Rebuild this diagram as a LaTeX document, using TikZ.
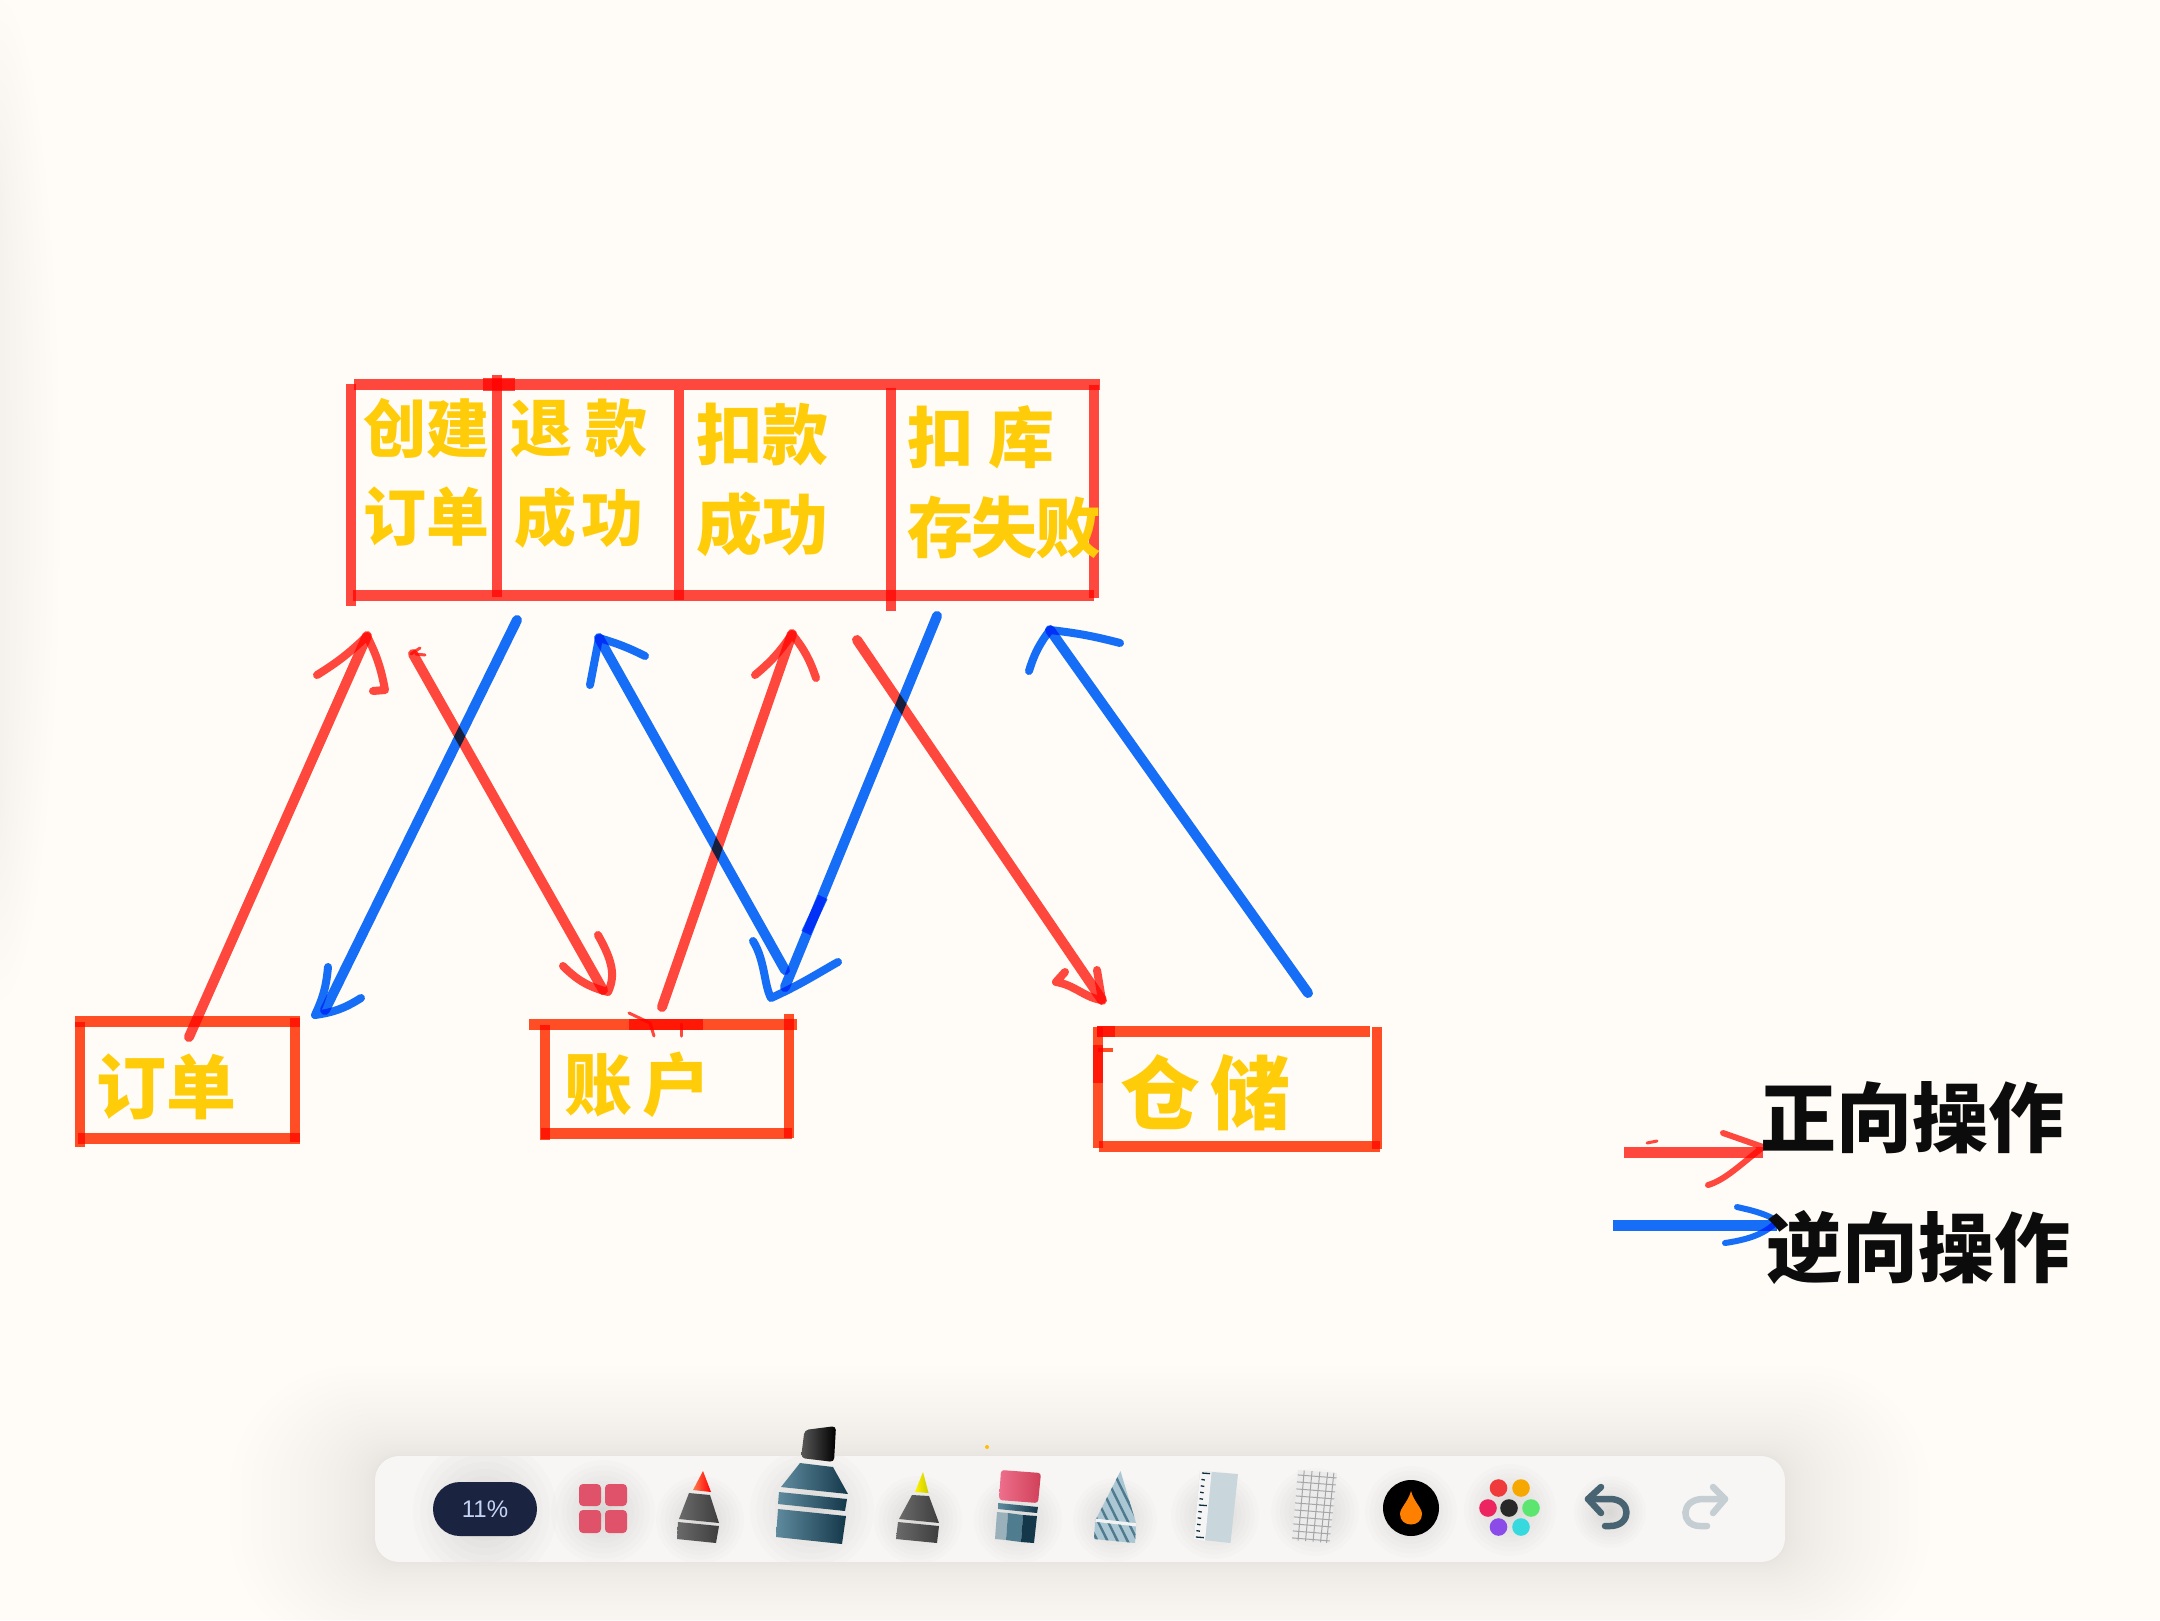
\documentclass[tikz,border=0pt]{standalone}
\usepackage{fontspec}
\setmainfont{Liberation Sans}
\newfontfamily\cjk{Noto Sans CJK SC}
\usetikzlibrary{calc}
\definecolor{bgpaper}{HTML}{FFFBF6}
\definecolor{penred}{HTML}{FF4A40}
\definecolor{penorange}{HTML}{FF5028}
\definecolor{penblue}{HTML}{1670FF}
\definecolor{penyellow}{HTML}{FFCC0A}
\definecolor{inkblack}{HTML}{0C0C0C}
\definecolor{tealdark}{HTML}{14384A}
\definecolor{teallight}{HTML}{5F8A9E}
\definecolor{pendark}{HTML}{3E3E3E}
\definecolor{penlight}{HTML}{6A6A6A}
\definecolor{barfill}{HTML}{F7F6F4}
\definecolor{pillnavy}{HTML}{1A2340}
\definecolor{pilltext}{HTML}{C5D4F5}
\tikzset{
  redshaft/.style={draw=penred,line width=10pt,blend mode=multiply,line cap=round,line join=round},
  blueshaft/.style={draw=penblue,line width=10pt,blend mode=multiply,line cap=round,line join=round},
  redhead/.style={draw=penred,line width=8pt,blend mode=multiply,line cap=round,line join=round},
  bluehead/.style={draw=penblue,line width=8pt,blend mode=multiply,line cap=round,line join=round},
  hbar/.style={draw=penred,line width=11pt,blend mode=multiply,line cap=butt},
  vbar/.style={draw=penred,line width=10pt,blend mode=multiply,line cap=butt},
  ohbar/.style={draw=penorange,line width=11pt,blend mode=multiply,line cap=butt},
  ovbar/.style={draw=penorange,line width=10pt,blend mode=multiply,line cap=butt},
  handtext/.style={text=penyellow,font=\cjk\bfseries,inner sep=0pt,align=center},
  legendtext/.style={text=inkblack,inner sep=0pt,font=\cjk\bfseries\fontsize{76}{80}\selectfont},
}
\newcommand\softblob[3]{\foreach \k in {1,...,10}{\fill[black,opacity=.013] (#1,#2) circle ({#3*\k/10});}}
\begin{document}
\begin{tikzpicture}[x=1pt,y=-1pt]
\useasboundingbox (0,0) rectangle (2160,1620);
\fill[bgpaper] (0,0) rectangle (2160,1620);
\foreach \k in {1,...,10}{\fill[black,opacity=.005] (0,500) ellipse ({6*\k} and {300+20*\k});}

%% ---- top table ----
\draw[hbar] (354,384) -- (1100,384);
\draw[vbar] (351,384) -- (351,606);
\draw[vbar] (497,375) -- (497,597);
\draw[vbar] (679,390) -- (679,600);
\draw[vbar] (891,388) -- (891,611);
\draw[vbar] (1094,385) -- (1094,598);
\draw[hbar] (353,595) -- (1094,595);
\draw[hbar,line width=13pt] (483,384) -- (515,384);

\node[handtext,font=\cjk\bfseries\fontsize{63}{88}\selectfont] (cellA) at (426,472) {创建\\订单};
\node[handtext,font=\cjk\bfseries\fontsize{62}{90}\selectfont] (cellB) at (579,473) {退\hspace{14pt}款\\成\hspace{6pt}功};
\node[handtext,font=\cjk\bfseries\fontsize{66}{90}\selectfont] (cellC) at (762,480) {扣款\\成功};
\node[handtext,font=\cjk\bfseries\fontsize{66}{90}\selectfont,align=left] (cellD) at (1004,482) {扣\hspace{16pt}库\\存\hspace{-2pt}失\hspace{-2pt}败};

%% ---- lower boxes ----
\draw[ohbar] (75,1021) -- (300,1021);
\draw[ovbar] (80,1022) -- (80,1147);
\draw[ovbar] (295,1018) -- (295,1142);
\draw[ohbar] (78,1138) -- (300,1138);
\node[handtext,font=\cjk\bfseries\fontsize{70}{70}\selectfont] (boxOrder) at (166,1087) {订单};

\draw[ohbar] (529,1024) -- (797,1024);
\draw[ovbar] (545,1025) -- (545,1140);
\draw[ovbar] (789,1014) -- (789,1138);
\draw[ohbar] (541,1133) -- (792,1133);
\draw[ohbar] (629,1024) -- (703,1024);
\draw[redhead,line width=3pt] (629,1013) -- (650,1023) -- (654,1036);
\draw[redhead,line width=3pt] (681,1024) -- (681,1036);
\node[handtext,font=\cjk\bfseries\fontsize{68}{70}\selectfont] (boxAccount) at (637,1085) {账\hspace{10pt}户};

\draw[ohbar] (1097,1031) -- (1370,1031);
\draw[ovbar] (1098,1027) -- (1098,1148);
\draw[ovbar] (1377,1027) -- (1377,1149);
\draw[ohbar] (1099,1146) -- (1380,1146);
\draw[ohbar] (1097,1031) -- (1115,1031);
\draw[ovbar] (1098,1045) -- (1098,1083);
\draw[ovbar,line width=3.5pt] (1098,1050) -- (1113,1050);
\node[handtext,font=\cjk\bfseries\fontsize{80}{80}\selectfont] (boxStore) at (1205,1093) {仓\hspace{10pt}储};

%% ---- arrow end points ----
\coordinate (a1s) at (189,1037); \coordinate (a1e) at (367,636);
\coordinate (a1l) at (317,675);  \coordinate (a1r) at (385,690); \coordinate (a1h) at (373,691);
\coordinate (a2s) at (517,620);  \coordinate (a2e) at (325,1010);
\coordinate (a2l) at (328,967);  \coordinate (a2t) at (315,1015); \coordinate (a2r) at (361,998);
\coordinate (a3s) at (413,654);  \coordinate (a3e) at (603,990);
\coordinate (a3l) at (598,935);  \coordinate (a3t) at (608,992);  \coordinate (a3r) at (563,966);
\coordinate (a4s) at (662,1007); \coordinate (a4e) at (792,634);
\coordinate (a4l) at (755,675);  \coordinate (a4r) at (816,678);
\coordinate (a5s) at (785,970);  \coordinate (a5e) at (599,638);
\coordinate (a5l) at (590,685);  \coordinate (a5r) at (645,656);
\coordinate (a6s) at (937,616);  \coordinate (a6e) at (785,987);
\coordinate (a6l) at (753,941);  \coordinate (a6t) at (771,998);  \coordinate (a6r) at (838,962);
\coordinate (a6ba) at (823,897); \coordinate (a6bb) at (806,933);
\coordinate (a7s) at (857,640);  \coordinate (a7e) at (1102,1000);
\coordinate (a7l) at (1065,972); \coordinate (a7m) at (1056,982); \coordinate (a7r) at (1097,970);
\coordinate (a8s) at (1308,993); \coordinate (a8e) at (1050,630);
\coordinate (a8l) at (1029,671); \coordinate (a8r) at (1120,643);

%% ---- arrows ----
\draw[redshaft] (a1s) -- (a1e);
\draw[redhead] (a1l) to[bend right=6] (a1e) to[bend left=8] (a1r) -- (a1h);
\draw[blueshaft] (a2s) -- (a2e);
\draw[bluehead] (a2l) to[bend left=10] (a2t) to[bend right=12] (a2r);
\draw[redshaft] (a3s) -- (a3e);
\draw[redhead,line width=3pt] (411,654) -- (420,648);
\draw[redhead,line width=3pt] (416,654) -- (425,655);
\draw[redhead] (a3l) .. controls (612,960) and (616,975) .. (a3t) to[bend left=15] (a3r);
\draw[redshaft] (a4s) -- (a4e);
\draw[redhead] (a4l) to[bend right=8] (a4e) to[bend left=10] (a4r);
\draw[blueshaft] (a5s) -- (a5e);
\draw[bluehead] (a5l) -- (a5e) to[bend left=5] (a5r);
\draw[blueshaft] (a6s) -- (a6e);
\draw[blueshaft,line width=10pt,line cap=butt] (a6ba) -- (a6bb);
\draw[bluehead] (a6l) .. controls (765,960) and (764,985) .. (a6t) .. controls (800,985) and (820,972) .. (a6r);
\draw[redshaft] (a7s) -- (a7e);
\draw[redhead] (a7l) -- (a7m) .. controls (1075,985) and (1085,998) .. (a7e) -- (a7r);
\draw[blueshaft] (a8s) -- (a8e);
\draw[bluehead] (a8l) to[bend left=10] (a8e) to[bend left=4] (a8r);

%% ---- legend ----
\coordinate (lrs) at (1624,1152); \coordinate (lre) at (1763,1152);
\coordinate (lrl) at (1723,1133); \coordinate (lrt) at (1763,1147); \coordinate (lrr) at (1708,1185);
\coordinate (lbs) at (1613,1225); \coordinate (lbe) at (1777,1225);
\coordinate (lbl) at (1737,1207); \coordinate (lbt) at (1777,1221); \coordinate (lbr) at (1725,1243);
\draw[hbar] (lrs) -- (lre);
\draw[redhead,line width=6pt] (lrl) -- (lrt) .. controls (1740,1165) and (1725,1180) .. (lrr);
\draw[redhead,line width=3pt] (1647,1143) -- (1657,1141);
\draw[hbar,draw=penblue] (lbs) -- (lbe);
\draw[bluehead,line width=6pt] (lbl) .. controls (1750,1210) and (1765,1213) .. (lbt) .. controls (1765,1235) and (1745,1240) .. (lbr);
\node[legendtext] (legA) at (1912,1118) {正向操作};
\node[legendtext] (legB) at (1918,1247) {逆向操作};

%% ---- toolbar ----
\foreach \i [evaluate=\i as \f using (\i/24)^1.8,
             evaluate=\i as \dx using 145*(\i/24)^1.8,
             evaluate=\i as \dy using 90*(\i/24)^1.8,
             evaluate=\i as \rr using 24+100*(\i/24)^1.8] in {1,...,24}{
  \fill[black,opacity=.0045,rounded corners=\rr pt] ({375-\dx},{1456-\dy}) rectangle ({1785+\dx},{1562+\dy});}
\fill[barfill,rounded corners=24pt] (375,1456) rectangle (1785,1562);
\begin{scope}
\clip[rounded corners=24pt] (375,1456) rectangle (1785,1562);
\softblob{485}{1512}{72}\softblob{603}{1512}{52}\softblob{700}{1520}{44}\softblob{812}{1510}{62}
\softblob{918}{1520}{44}\softblob{1018}{1520}{44}\softblob{1115}{1520}{42}\softblob{1215}{1515}{44}
\softblob{1315}{1512}{44}\softblob{1411}{1512}{46}\softblob{1510}{1510}{46}\softblob{1610}{1512}{36}
\end{scope}

% zoom pill
\fill[pillnavy,rounded corners=26.9pt] (433,1482) rectangle (537,1536);
\node[text=pilltext,inner sep=0pt,font=\fontsize{24}{24}\selectfont] (zoomlabel) at (485,1509) {11\%};

% grid button
\definecolor{gridpink}{HTML}{E0526A}
\foreach \ax/\bx in {579/601,605/627}\foreach \ay/\by in {1484/1506,1510/1533}{\fill[gridpink,rounded corners=4pt] (\ax,\ay) rectangle (\bx,\by);}

% red-tip pen
\shade[left color=orange!50!red!70!white,right color=red] (703,1471) -- (711,1492) -- (693,1490) -- cycle;
\shade[left color=penlight,right color=pendark] (689,1493) -- (710,1495) -- (719,1523) -- (679,1519) -- cycle;
\shade[left color=penlight,right color=pendark] (678,1522) -- (719,1526) -- (716,1543) -- (677,1539) -- cycle;

% big marker
\shade[left color=black!65,right color=black,rounded corners=4pt] (804.5,1430) -- (836,1426) -- (834,1462) -- (801,1458) -- cycle;
\shade[left color=teallight,right color=tealdark] (800,1463) -- (833,1467) -- (848,1494) -- (781,1487) -- cycle;
\shade[left color=teallight,right color=tealdark] (779,1492) -- (847,1499) -- (845,1511) -- (778,1504) -- cycle;
\shade[left color=teallight,right color=tealdark] (778,1509) -- (846,1516) -- (842,1544) -- (776,1537) -- cycle;

% yellow-tip pen
\shade[left color=yellow!90!orange,right color=yellow!80!black] (923,1472) -- (928.5,1493) -- (915,1492) -- cycle;
\shade[left color=penlight,right color=pendark] (912,1495) -- (929,1496) -- (939,1523) -- (899,1519) -- cycle;
\shade[left color=penlight,right color=pendark] (898,1522) -- (939,1526) -- (937,1543) -- (896,1539) -- cycle;
\fill[penyellow!80!orange] (987,1447) circle (2);

% eraser
\definecolor{eraselight}{HTML}{EE6F8C}
\definecolor{erasedark}{HTML}{D04058}
\shade[left color=eraselight,right color=erasedark,rounded corners=3pt] (1001,1470) -- (1041,1473) -- (1038,1503) -- (999,1500) -- cycle;
\shade[left color=teallight,right color=tealdark] (998,1503) -- (1038,1507) -- (1037,1513) -- (998,1509) -- cycle;
\definecolor{strA}{HTML}{9AB0BA}\definecolor{strB}{HTML}{507C90}
\fill[strA] (997,1512) -- (1008,1513) -- (1006,1540) -- (995,1539) -- cycle;
\fill[strB] (1008,1513) -- (1023,1515) -- (1021,1542) -- (1006,1540) -- cycle;
\fill[tealdark] (1023,1515) -- (1037,1516) -- (1034,1543) -- (1021,1542) -- cycle;

% striped pencil
\begin{scope}
\clip (1120.5,1471) -- (1136,1523) -- (1136,1526) -- (1135,1543) -- (1094,1539) -- (1095,1523) -- (1096,1519) -- cycle;
\definecolor{pencilblue}{HTML}{ABC7D3}
\fill[pencilblue] (1090,1465) rectangle (1140,1548);
\foreach \d in {0,...,8}{\draw[teallight!80!tealdark,line width=2.4pt] ({1060+\d*10},1465) -- ++(42,85);}
\draw[white!90!gray,line width=3.2pt] (1094,1520) -- (1138,1525);
\end{scope}

% ruler
\definecolor{rulerblue}{HTML}{C9D6DC}
\fill[rulerblue] (1200,1471) -- (1238,1474) -- (1230.5,1543) -- (1194,1539) -- cycle;
\fill[white!92!gray] (1200,1471) -- (1211.6,1472) -- (1205,1541) -- (1194,1539) -- cycle;
\foreach \t in {0,1,...,10}{\draw[tealdark!80!black,line width=1.3pt] ({1202-\t*0.62},{1473+\t*6.4}) -- ++({(mod(\t,5)==0)?8:3.5},0.6);}

% grid paper
\coordinate (gA) at (1298,1470); \coordinate (gB) at (1337,1473);
\coordinate (gC) at (1329.5,1543); \coordinate (gD) at (1292,1540);
\fill[black!8!white] (gA) -- (gB) -- (gC) -- (gD) -- cycle;
\foreach \t in {0.07,0.17,...,1.0}{\draw[black!35,line width=1pt] ($(gA)!\t!(gD)$) -- ($(gB)!\t!(gC)$);}
\foreach \t in {0.16,0.36,0.56,0.76,0.92}{\draw[black!35,line width=1pt] ($(gA)!\t!(gB)$) -- ($(gD)!\t!(gC)$);}

% colour button
\fill[black] (1411,1508) circle (28);
\definecolor{dropor}{HTML}{FF8000}
\fill[dropor] (1411,1491) .. controls (1414,1502) and (1422,1508) .. (1422,1514) .. controls (1422,1528) and (1400,1528) .. (1400,1514) .. controls (1400,1508) and (1408,1502) .. cycle;

% palette
\foreach \px/\py/\pc in {1498.5/1488/EF3B3B,1521/1488/F7A800,1488/1508/EC2460,1509/1508/282828,1531/1508/5CE670,1498.5/1527/8A4BE8,1521/1527/36D9DE}{
  \definecolor{dotc}{HTML}{\pc}\fill[dotc] (\px,\py) circle (8.8);}

% undo / redo
\definecolor{undoc}{HTML}{486472}\definecolor{redoc}{HTML}{C4CED3}
\draw[undoc,line width=6.5pt,line cap=round,line join=round] (1601,1487) -- (1588,1499) -- (1601,1513);
\draw[undoc,line width=6.5pt,line cap=round,line join=round] (1588,1499) -- (1610,1499) .. controls (1632,1499) and (1632,1526) .. (1610,1526) -- (1605,1526);
\draw[redoc,line width=6.5pt,line cap=round,line join=round] (1713,1487) -- (1725,1499) -- (1713,1513);
\draw[redoc,line width=6.5pt,line cap=round,line join=round] (1725,1499) -- (1703,1499) .. controls (1680,1499) and (1680,1526) .. (1700,1526) -- (1707,1526);
\end{tikzpicture}
\end{document}
